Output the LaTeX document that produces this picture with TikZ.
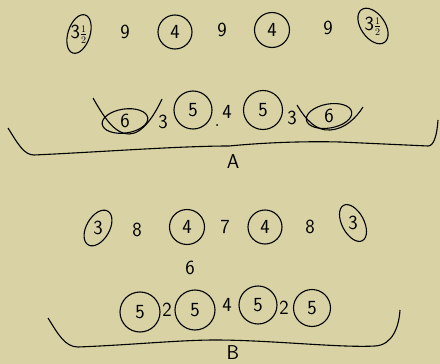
\documentclass[tikz,border=0pt]{standalone}
\begin{document}
\begin{tikzpicture}[x=1pt,y=-1pt,line width=1.1pt,
  lab/.style={font=\sffamily\fontsize{20}{20}\selectfont,inner sep=0pt},
  ring/.style={lab,draw,circle,minimum size=#1},
  oval/.style={line width=1.1pt}]
\fill[fill={rgb,255:red,216;green,210;blue,164}] (0,0) rectangle (440,364);
\useasboundingbox (0,0) rectangle (440,364);
% ---- A, top row
\node[lab] (e1) at (79,34) {3$\scriptstyle\frac{1}{2}$};
\draw[oval,rotate around={-18:(e1.center)}] (e1.center) ellipse [x radius=11,y radius=20];
\node[lab] (n9a) at (125,32) {9};
\node[ring=34] (c4a) at (175,32) {4};
\node[lab] (n9b) at (222,30) {9};
\node[ring=35] (c4b) at (272,30) {4};
\node[lab] (n9c) at (328,28) {9};
\node[lab] (e2) at (373,26) {3$\scriptstyle\frac{1}{2}$};
\draw[oval,rotate around={35:(e2.center)}] (e2.center) ellipse [x radius=12,y radius=20];
% ---- A, second row
\node[lab] (e6a) at (125,121) {6};
\draw[oval,rotate around={8:(e6a.center)}] (e6a.center) ellipse [x radius=23,y radius=12];
\coordinate (cupa1) at (93,98);
\coordinate (cupa2) at (162,99);
\draw (cupa1) .. controls (106,121) and (116,134) .. (129,134) .. controls (143,134) and (155,114) .. (cupa2);
\node[lab] (n3a) at (163,122) {3};
\node[ring=38] (c5a) at (193,110) {5};
\node[lab] (n4a) at (227,112) {4};
\fill (217,125) circle (1pt);
\node[ring=39] (c5b) at (263,110) {5};
\node[lab] (n3b) at (292,118) {3};
\node[lab] (e6b) at (329,116) {6};
\draw[oval,rotate around={10:(e6b.center)}] (e6b.center) ellipse [x radius=23,y radius=12];
\coordinate (cupb1) at (297,105);
\coordinate (cupb2) at (363,107);
\draw (cupb1) .. controls (306,120) and (316,131) .. (330,130) .. controls (345,129) and (356,118) .. (cupb2);
% ---- brace A
\coordinate (ba1) at (8,128);
\coordinate (ba2) at (438,120);
\draw (ba1) .. controls (18,144) and (24,155) .. (34,155)
  .. controls (100,152) and (180,146) .. (229,146)
  .. controls (260,143) and (300,141) .. (340,142)
  -- (428,146) .. controls (434,146) and (437,135) .. (ba2);
\node[lab] (la) at (233,162) {A};
% ---- B, top row
\node[lab] (e3a) at (98,228) {3};
\draw[oval,rotate around={-30:(e3a.center)}] (e3a.center) ellipse [x radius=11.5,y radius=19.5];
\node[lab] (n8a) at (137,230) {8};
\node[ring=35] (c4c) at (187,227) {4};
\node[lab] (n7) at (225,227) {7};
\node[ring=34] (c4d) at (265,227) {4};
\node[lab] (n8b) at (310,227) {8};
\node[lab] (e3b) at (353,223) {3};
\draw[oval,rotate around={28:(e3b.center)}] (e3b.center) ellipse [x radius=11,y radius=20];
\node[lab] (n6) at (190,268) {6};
% ---- B, bottom row
\node[ring=40] (c5c) at (140,312) {5};
\node[lab] (n2a) at (167,310) {2};
\node[ring=40] (c5d) at (195,310) {5};
\node[lab] (n4b) at (227,305) {4};
\node[ring=38] (c5e) at (258,305) {5};
\node[lab] (n2b) at (284,308) {2};
\node[ring=37] (c5f) at (312,308) {5};
% ---- brace B
\coordinate (bb1) at (48,318);
\coordinate (bb2) at (400,310);
\draw (bb1) .. controls (58,334) and (65,347) .. (78,347)
  .. controls (130,345) and (180,340) .. (215,340)
  .. controls (270,340) and (340,348) .. (375,346)
  .. controls (393,345) and (399,326) .. (bb2);
\node[lab] (lb) at (233,353) {B};
\end{tikzpicture}
\end{document}
